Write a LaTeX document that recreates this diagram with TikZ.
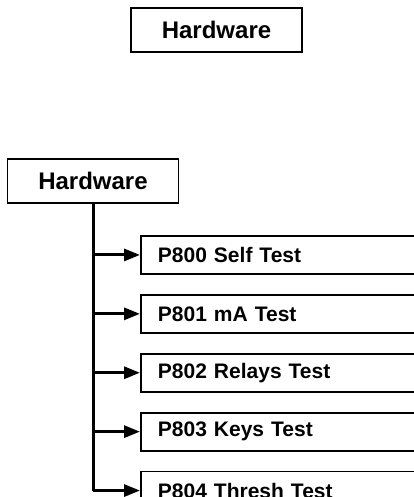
\documentclass[tikz,border=0pt]{standalone}
\usepackage{fontspec}
\setmainfont{Liberation Sans}
\usetikzlibrary{arrows.meta,positioning}
\tikzset{
  hwbox/.style={draw,line width=1.9pt,minimum width=171pt,minimum height=44pt,inner sep=0pt,font=\fontsize{24}{28}\selectfont\bfseries},
  tbox/.style={draw,line width=1.9pt,minimum height=38pt,text width=266pt,inner xsep=17pt,inner ysep=0pt,align=left,font=\fontsize{21}{25}\selectfont\bfseries},
  ar/.style={-{Triangle[length=16pt,width=12pt]},line width=3pt},
  trunk/.style={line width=3pt}
}
\begin{document}
\begin{tikzpicture}[x=1pt,y=1pt]
\useasboundingbox (0,0) rectangle (413,497);
\node[hwbox] (hwtop) at (216.5,467) {Hardware};
\node[hwbox] (hw) at (93,316) {Hardware};
\node[tbox,anchor=north west] (p800) at (140,262) {P800 Self Test};
\node[tbox,below=19pt of p800] (p801) {P801 mA Test};
\node[tbox,below=19pt of p801] (p802) {P802 Relays Test};
\node[tbox,below=19pt of p802] (p803) {P803 Keys Test};
\node[tbox,below=19pt of p803] (p804) {P804 Thresh Test};
% tree connectors
\draw[trunk] (hw.south) -- (hw.south |- p804.west);
\foreach \t in {p800,p801,p802,p803}{
  \draw[ar] (hw.south |- \t.west) -- (\t.west);
}
\draw[ar] (hw.south |- p804.west) -- (p804.west);
\end{tikzpicture}
\end{document}
